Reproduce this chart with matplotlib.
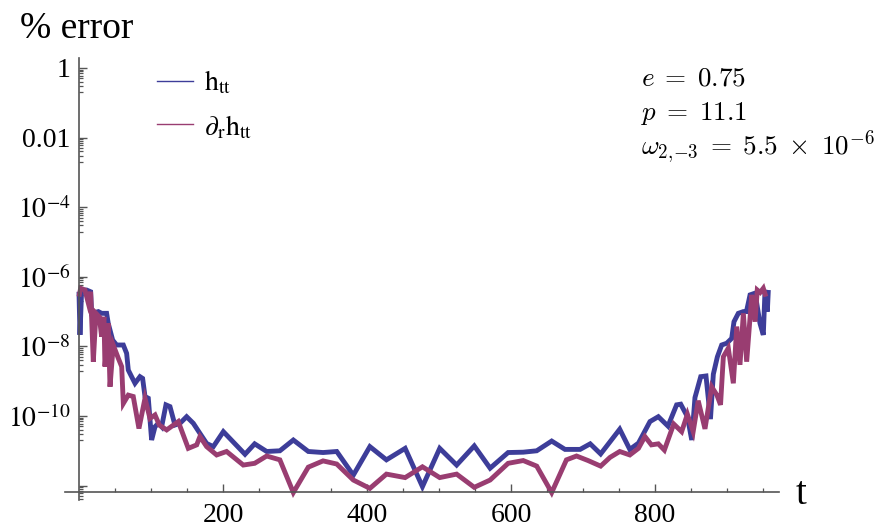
import numpy as np
import matplotlib
matplotlib.use("Agg")
import matplotlib.pyplot as plt
from matplotlib.lines import Line2D
from matplotlib.ticker import FixedLocator, NullFormatter

# ---- data (errors stored as log10 exponents) ----
t_htt = [0, 1.4, 3.7, 10.6, 16.2, 17.6, 26.9, 31.5, 38.4, 40.7, 46.8, 52.3, 61.6,
         66.2, 68.5, 73.1, 77.8, 84.7, 88.4, 91.7, 96.3, 100.9, 105.6, 110.2,
         114.8, 120.8, 126.4, 133.3, 140.3, 149.5, 158.8, 168, 177.3, 186.6,
         200.5, 230.6, 244, 260.7, 279, 297.7, 318.5, 339, 358, 381, 404, 427,
         453, 477, 501, 524.5, 549, 571, 596, 617, 635.7, 656.5, 675, 696, 710,
         724.5, 751, 765, 777, 793, 804.6, 818, 830, 835.7, 845, 851, 855.5,
         863.5, 870.8, 877, 881, 886.6, 892.6, 899.6, 906.5, 909.7, 915.7, 922.7,
         927, 932, 939, 945.8, 950.4, 952.8, 956, 957.4]
log_err_htt = [-6.43, -7.67, -6.38, -6.38, -6.43, -7.05, -7.00, -7.05, -7.05, -7.34,
               -7.82, -7.96, -7.96, -8.20, -8.68, -8.87, -9.06, -8.87, -8.92, -9.44,
               -9.49, -10.69, -10.31, -10.21, -10.31, -9.68, -9.73, -10.26, -10.21,
               -10.02, -10.21, -10.50, -10.79, -10.88, -10.45, -11.10, -10.80,
               -11.02, -11.00, -10.69, -11.02, -11.05, -11.02, -11.70, -10.88,
               -11.26, -10.93, -12.03, -10.93, -11.41, -10.86, -11.50, -11.05,
               -11.04, -11.00, -10.72, -10.96, -10.96, -10.80, -11.09, -10.38,
               -10.96, -10.78, -10.16, -10.02, -10.29, -9.68, -9.66, -10.02, -10.69,
               -9.47, -8.87, -8.85, -10.09, -8.80, -8.30, -7.96, -7.91, -7.77, -7.29,
               -7.05, -7.00, -7.00, -6.52, -6.47, -7.34, -7.67, -6.38, -7.00, -6.38]

t_drhtt = [0, 2.3, 8.3, 13, 16.2, 19.9, 23.6, 28.2, 31.5, 34.7, 36.1, 40.7, 43.1,
           47.6, 54.6, 59.3, 61.6, 68.5, 75.4, 83.3, 91.7, 98.6, 105.6, 111.6,
           121.8, 137.9, 151.8, 163.5, 168, 177.3, 191.2, 205, 228.2, 244, 260.7,
           279, 297.7, 318.5, 339, 358, 381, 404, 427, 453, 477, 501, 524.5, 549,
           571, 596, 617, 635.7, 656.5, 677, 691, 707, 724.5, 737.5, 751, 765, 777,
           786, 795, 804.6, 813, 826, 837, 845, 853, 860, 869.4, 878.7, 886, 891,
           894.9, 901.8, 908.8, 913.5, 918, 922.7, 927.3, 932.8, 934.3, 939, 942,
           946, 950.4, 954]
log_err_drhtt = [-6.57, -6.33, -6.38, -6.76, -6.43, -8.44, -7.05, -7.15, -7.72, -7.15,
                 -8.58, -7.34, -9.16, -7.96, -8.34, -8.58, -9.64, -9.40, -9.44,
                 -10.36, -9.49, -10.07, -9.97, -10.26, -10.40, -10.16, -10.93,
                 -10.83, -10.59, -10.88, -11.12, -11.02, -11.41, -11.36, -11.15,
                 -11.26, -12.20, -11.47, -11.29, -11.38, -11.84, -12.08, -11.67,
                 -11.77, -11.46, -11.77, -11.67, -12.05, -11.84, -11.36, -11.28,
                 -11.44, -12.20, -11.26, -11.15, -11.28, -11.44, -11.19, -11.02,
                 -11.12, -10.93, -10.59, -10.83, -10.80, -10.98, -10.23, -10.45,
                 -9.95, -10.45, -9.56, -10.37, -9.16, -9.40, -9.68, -8.30, -8.05,
                 -9.06, -7.43, -8.53, -7.05, -8.44, -6.95, -6.52, -7.29, -6.38,
                 -6.45, -6.33, -6.57]

series_labels = [r'$\mathrm{h}_{\mathrm{tt}}$', r'$\partial_{\mathrm{r}}\mathrm{h}_{\mathrm{tt}}$']
series_colors = [(0.24, 0.24, 0.6), (0.6, 0.24, 0.4416)]

y_major_exps = [0, -2, -4, -6, -8, -10, -12]
y_major_labels = ['1', '0.01', r'$10^{-4}$', r'$10^{-6}$', r'$10^{-8}$', r'$10^{-10}$', '']
x_major = [200, 400, 600, 800]
x_major_labels = ['200', '400', '600', '800']

annotation_lines = [r'$e\;=\;0.75$', r'$p\;=\;11.1$',
                    r'$\omega_{2,\!{-}3}\;=\;5.5\;\times\;10^{-6}$']

# ---- figure ----
W, H = 880, 527
fig = plt.figure(figsize=(W / 100, H / 100), dpi=100)
serif = ['Liberation Serif', 'DejaVu Serif']
plt.rcParams['font.family'] = serif
plt.rcParams['mathtext.fontset'] = 'stix'

ax = fig.add_axes([65 / W, 1 - 500 / H, (779 - 65) / W, (500 - 58) / H])
ax.set_yscale('log')
ax.set_xlim(-19.4, 972.2)
ax.set_ylim(10 ** -12.414, 10 ** 0.287)

for t, le, c in zip([t_htt, t_drhtt], [log_err_htt, log_err_drhtt], series_colors):
    ax.plot(t, 10.0 ** np.array(le), color=c, lw=3.5, solid_joinstyle='miter',
            solid_capstyle='butt')

axis_col = '#555555'
for s in ['top', 'right']:
    ax.spines[s].set_visible(False)
ax.spines['left'].set_position(('data', 0))
ax.spines['bottom'].set_position(('data', 10 ** -12.17))
for s in ['left', 'bottom']:
    ax.spines[s].set_color(axis_col)
    ax.spines[s].set_linewidth(1.2)

ax.yaxis.set_major_locator(FixedLocator([10.0 ** e for e in y_major_exps]))
ax.set_yticklabels(y_major_labels)
minor_y = [k * 10.0 ** (e - 1) for e in y_major_exps for k in range(2, 10)]
ax.yaxis.set_minor_locator(FixedLocator(minor_y))
ax.yaxis.set_minor_formatter(NullFormatter())

ax.xaxis.set_major_locator(FixedLocator(x_major))
ax.set_xticklabels(x_major_labels)
ax.xaxis.set_minor_locator(FixedLocator([v for v in range(50, 1000, 50) if v not in x_major and v < 972]))

ax.tick_params(axis='both', which='major', direction='in', length=5.5, width=1,
               color=axis_col, labelsize=20, labelcolor='black')
ax.tick_params(axis='both', which='minor', direction='in', length=3, width=0.9,
               color=axis_col)
ax.tick_params(axis='y', which='major', pad=6)
ax.tick_params(axis='x', which='major', pad=8)

# axis titles
fig.text(20 / W, 1 - 38 / H, '% error', fontsize=27, ha='left', va='baseline')
fig.text(796 / W, 1 - 504 / H, 't', fontsize=28, ha='left', va='baseline')

# legend (manual)
leg_y = [80.7, 124]
leg_base = [90.7, 135]
for yy, yb, lab, c in zip(leg_y, leg_base, series_labels, series_colors):
    fig.add_artist(Line2D([157 / W, 193 / W], [1 - yy / H, 1 - yy / H], color=c, lw=1.0,
                          transform=fig.transFigure))
    fig.text(204 / W, 1 - yb / H, lab, fontsize=20, ha='left', va='baseline')

# annotation
ann_base = [86, 120, 155]
for yb, s in zip(ann_base, annotation_lines):
    fig.text(641 / W, 1 - yb / H, s, fontsize=19.5, ha='left', va='baseline',
             math_fontfamily='cm')

fig.savefig('out.png', dpi=100)
